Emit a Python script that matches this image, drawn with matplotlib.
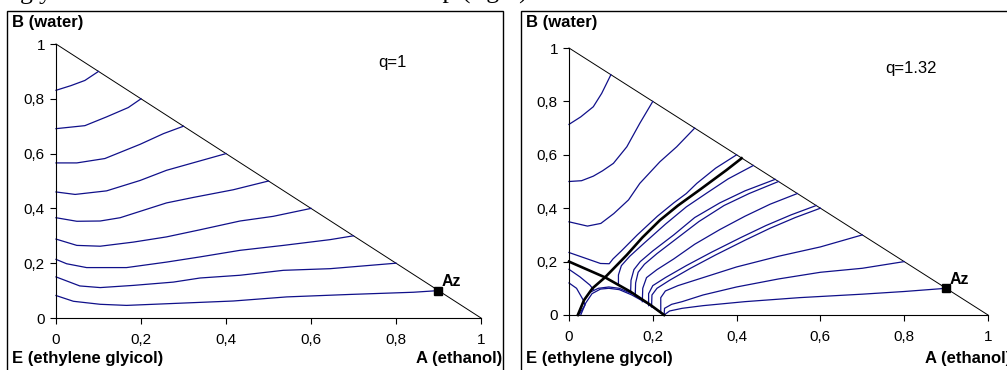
import matplotlib
matplotlib.use("Agg")
import matplotlib.pyplot as plt
from matplotlib.patches import Rectangle

plt.rcParams['font.family'] = ['Liberation Sans', 'DejaVu Sans']

W, H = 1007, 370  # output size in pixels

# RESIDUE CURVES, x = A (ethanol), y = B (water)

# left map, q=1
q1_line1 = [(0, 0.831), (0.035, 0.848), (0.068, 0.867), (0.1, 0.9)]
q1_line2 = [(0, 0.691), (0.068, 0.702), (0.119, 0.734), (0.17, 0.768), (0.2, 0.8)]
q1_line3 = [(0, 0.566), (0.049, 0.566), (0.115, 0.582), (0.198, 0.634), (0.253, 0.673), (0.3, 0.7)]
q1_line4 = [(0, 0.46), (0.045, 0.451), (0.119, 0.464), (0.198, 0.502), (0.26, 0.539),
            (0.315, 0.563), (0.4, 0.6)]
q1_line5 = [(0, 0.366), (0.049, 0.353), (0.104, 0.354), (0.151, 0.366), (0.26, 0.42),
            (0.323, 0.44), (0.417, 0.468), (0.5, 0.5)]
q1_line6 = [(0, 0.288), (0.049, 0.265), (0.104, 0.262), (0.182, 0.277), (0.26, 0.296),
            (0.339, 0.322), (0.433, 0.354), (0.511, 0.371), (0.6, 0.4)]
q1_line7 = [(0, 0.214), (0.025, 0.198), (0.072, 0.184), (0.166, 0.184), (0.26, 0.204),
            (0.339, 0.223), (0.433, 0.247), (0.535, 0.265), (0.645, 0.286), (0.7, 0.3)]
q1_line8 = [(0, 0.15), (0.056, 0.117), (0.104, 0.111), (0.182, 0.119), (0.276, 0.131),
            (0.339, 0.146), (0.433, 0.156), (0.535, 0.174), (0.645, 0.18), (0.8, 0.2)]
q1_line9 = [(0, 0.082), (0.041, 0.061), (0.104, 0.05), (0.166, 0.046), (0.26, 0.052),
            (0.417, 0.062), (0.543, 0.077), (0.692, 0.086), (0.841, 0.094), (0.9, 0.1)]

# right map, q=1.32
q132_line1 = [(0, 0.714), (0.028, 0.742), (0.058, 0.78), (0.078, 0.83), (0.1, 0.9)]
q132_line2 = [(0, 0.5), (0.03, 0.503), (0.058, 0.52), (0.08, 0.54), (0.106, 0.568),
              (0.138, 0.63), (0.169, 0.718), (0.2, 0.8)]
q132_line3 = [(0, 0.349), (0.044, 0.333), (0.076, 0.343), (0.107, 0.38), (0.142, 0.431),
              (0.169, 0.493), (0.217, 0.574), (0.257, 0.63), (0.3, 0.7)]
q132_line4 = [(0, 0.234), (0.044, 0.21), (0.075, 0.193), (0.096, 0.192), (0.105, 0.21),
              (0.125, 0.24), (0.163, 0.3), (0.211, 0.37), (0.25, 0.42), (0.28, 0.455),
              (0.305, 0.493), (0.35, 0.55), (0.4, 0.6)]
q132_line5 = [(0.118, 0.115), (0.118, 0.15), (0.125, 0.185), (0.145, 0.22), (0.18, 0.27),
              (0.23, 0.34), (0.28, 0.405), (0.33, 0.458), (0.38, 0.51), (0.44, 0.56)]
q132_line6 = [(0.147, 0.085), (0.148, 0.13), (0.155, 0.17), (0.17, 0.2), (0.2, 0.24),
              (0.25, 0.3), (0.3, 0.365), (0.36, 0.42), (0.42, 0.465), (0.492, 0.508)]
q132_line7 = [(0.158, 0.07), (0.159, 0.12), (0.165, 0.16), (0.18, 0.19), (0.21, 0.23),
              (0.26, 0.29), (0.31, 0.35), (0.37, 0.41), (0.43, 0.455), (0.5, 0.5)]
q132_line8 = [(0.175, 0.05), (0.176, 0.1), (0.185, 0.14), (0.21, 0.17), (0.25, 0.21),
              (0.3, 0.265), (0.36, 0.32), (0.42, 0.37), (0.48, 0.415), (0.545, 0.455)]
q132_line9 = [(0.19, 0.035), (0.19, 0.08), (0.2, 0.11), (0.23, 0.14), (0.28, 0.185),
              (0.34, 0.235), (0.41, 0.29), (0.47, 0.335), (0.53, 0.375), (0.59, 0.41)]
q132_line10 = [(0.197, 0.03), (0.198, 0.075), (0.21, 0.1), (0.24, 0.13), (0.29, 0.175),
               (0.35, 0.225), (0.42, 0.28), (0.48, 0.325), (0.54, 0.365), (0.6, 0.4)]
q132_line11 = [(0.219, 0.009), (0.219, 0.065), (0.23, 0.09), (0.26, 0.11), (0.32, 0.14),
               (0.4, 0.18), (0.5, 0.22), (0.6, 0.255), (0.7, 0.3)]
q132_line12 = [(0.227, 0), (0.228, 0.025), (0.245, 0.04), (0.27, 0.05), (0.32, 0.075),
               (0.4, 0.105), (0.5, 0.135), (0.6, 0.16), (0.7, 0.175), (0.8, 0.2)]
q132_line13 = [(0.227, 0), (0.24, 0.015), (0.27, 0.025), (0.32, 0.035), (0.42, 0.05),
               (0.55, 0.065), (0.7, 0.078), (0.8, 0.088), (0.9, 0.1)]
q132_line14 = [(0, 0.171), (0.026, 0.143), (0.05, 0.112), (0.058, 0.096)]
q132_line15 = [(0, 0.12), (0.018, 0.1), (0.034, 0.056), (0.038, 0.037), (0.026, 0.006), (0.022, 0)]
q132_line16 = [(0.028, 0), (0.04, 0.045), (0.055, 0.08), (0.075, 0.097), (0.095, 0.1),
               (0.12, 0.095), (0.15, 0.075), (0.19, 0.04), (0.227, 0)]
q132_line17 = [(0.05, 0.085), (0.07, 0.1), (0.095, 0.105), (0.12, 0.1), (0.15, 0.08)]

# separatrices (thick black)
q132_sep1 = [(0.021, 0), (0.036, 0.056), (0.056, 0.1), (0.086, 0.141), (0.138, 0.225),
             (0.175, 0.29), (0.217, 0.355), (0.26, 0.41), (0.313, 0.47), (0.376, 0.543),
             (0.412, 0.587)]
q132_sep2 = [(0, 0.2), (0.086, 0.141), (0.147, 0.087), (0.195, 0.037), (0.227, 0)]

q1_curves = [q1_line1, q1_line2, q1_line3, q1_line4, q1_line5, q1_line6, q1_line7,
             q1_line8, q1_line9]
q132_curves = [q132_line1, q132_line2, q132_line3, q132_line4, q132_line5, q132_line6,
               q132_line7, q132_line8, q132_line9, q132_line10, q132_line11, q132_line12,
               q132_line13, q132_line14, q132_line15, q132_line16, q132_line17]
q132_seps = [q132_sep1, q132_sep2]

tick_vals = [0, 0.2, 0.4, 0.6, 0.8, 1]
tick_text = ['0', '0,2', '0,4', '0,6', '0,8', '1']
azeotrope = (0.9, 0.1)

BLUE = '#10108a'

##########################################################################################

def fig_rect(x0, y0, x1, y1):
  # pixel box (origin top left) -> figure fraction [left, bottom, width, height]
  return [x0 / W, 1 - y1 / H, (x1 - x0) / W, (y1 - y0) / H]

def ftext(x, y, s, **kw):
  fig.text(x / W, 1 - y / H, s, **kw)

def draw_map(ax, curves, seps):
  ax.set_xlim(0, 1)
  ax.set_ylim(0, 1)
  ax.patch.set_alpha(0)
  for sp in ['top', 'right']:
    ax.spines[sp].set_visible(False)
  for sp in ['left', 'bottom']:
    ax.spines[sp].set_linewidth(0.8)
  ax.set_xticks(tick_vals)
  ax.set_xticklabels(tick_text)
  ax.set_yticks(tick_vals)
  ax.set_yticklabels(tick_text)
  ax.tick_params(axis='x', direction='out', length=4, width=0.8, pad=7, labelsize=11)
  ax.tick_params(axis='y', direction='out', length=4, width=0.8, pad=4, labelsize=11)
  # triangle hypotenuse
  ax.plot([0, 1], [1, 0], color='black', lw=0.7, clip_on=False)
  for c in curves:
    ax.plot([p[0] for p in c], [p[1] for p in c], color=BLUE, lw=0.9, clip_on=False)
  for c in seps:
    ax.plot([p[0] for p in c], [p[1] for p in c], color='black', lw=1.9, clip_on=False)
  ax.plot([azeotrope[0]], [azeotrope[1]], marker='s', ms=5.5, color='black', clip_on=False)
  ax.annotate('Az', azeotrope, xytext=(2.5, 6.5), textcoords='offset points',
              fontsize=11.5, fontweight='bold', va='center', ha='left')

##########################################################################################

fig = plt.figure(figsize=(W / 100, H / 100), dpi=100)

# panel frames
for x0, x1 in [(7, 503), (521, 1012)]:
  fig.add_artist(Rectangle((x0 / W, -0.02), (x1 - x0) / W, 1 - 11 / H + 0.02,
                           transform=fig.transFigure, fill=False, lw=1.0, ec='black'))

ax1 = fig.add_axes(fig_rect(56, 44, 481, 318))
draw_map(ax1, q1_curves, [])
ax2 = fig.add_axes(fig_rect(569, 48, 988, 315))
draw_map(ax2, q132_curves, q132_seps)

# axis names
bold = dict(fontsize=12, fontweight='bold', va='center')
ftext(12.5, 22.5, 'B (water)', ha='left', **bold)
ftext(12.5, 358, 'E (ethylene glyicol)', ha='left', **bold)
ftext(502, 358, 'A (ethanol)', ha='right', **bold)
ftext(526, 22.5, 'B (water)', ha='left', **bold)
ftext(526, 358, 'E (ethylene glycol)', ha='left', **bold)
ftext(925, 358, 'A (ethanol)', ha='left', **bold)

ftext(378, 63, 'q=1', fontsize=12, va='center', ha='left')
ftext(885, 69, 'q=1.32', fontsize=12, va='center', ha='left')

# bottom of the caption line above the figure (cut off)
serif = dict(family='Liberation Serif', fontsize=18.5, va='baseline', ha='left')
ftext(20, -1.5, 'glycol', **serif)
ftext(411, -1.5, 'map (right)', **serif)

fig.savefig('out.png', dpi=100)
